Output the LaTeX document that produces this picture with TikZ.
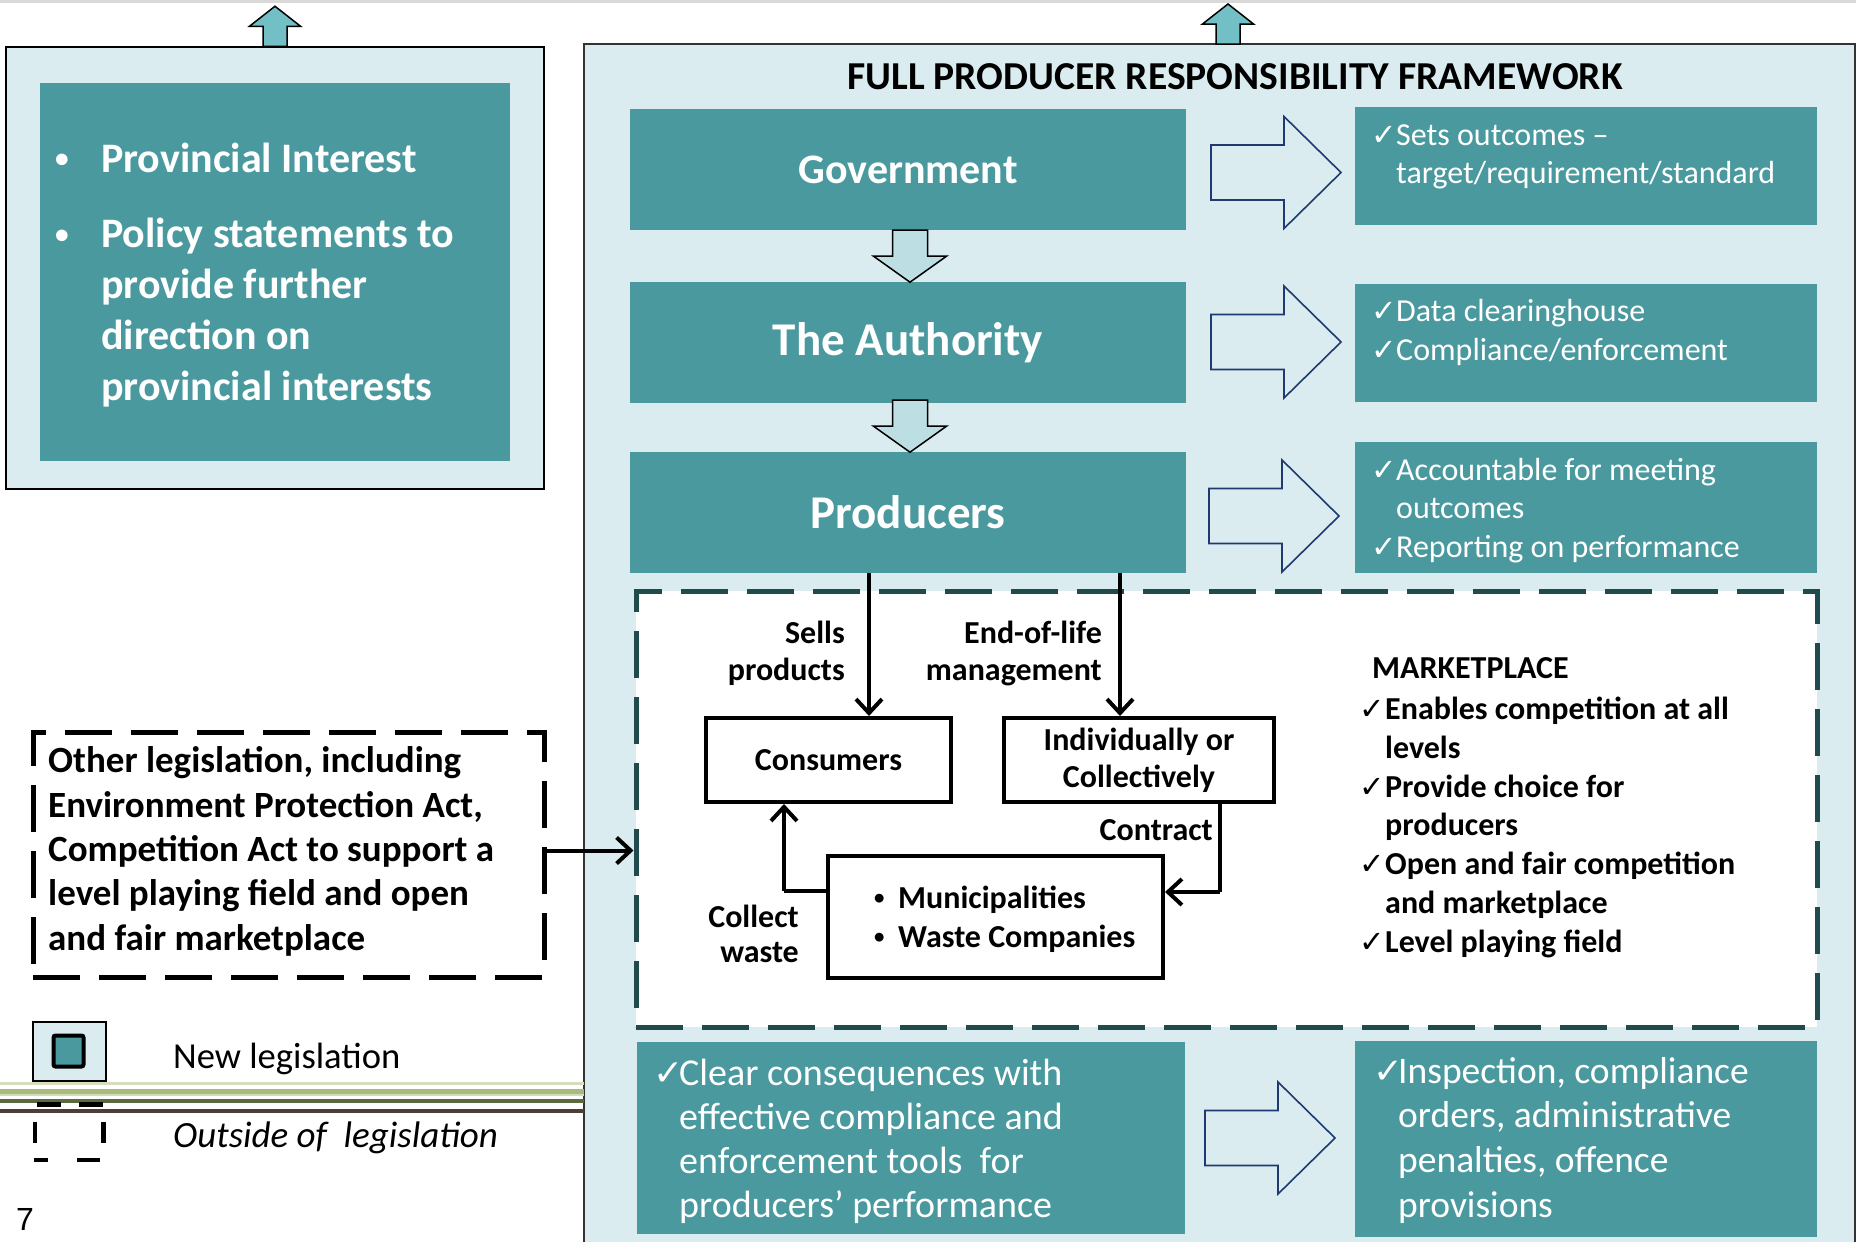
\documentclass[tikz,border=0pt]{standalone}
\usepackage{fontspec}
\usepackage{graphicx}
\setmainfont{Carlito}
\newfontfamily\symfont{DejaVu Sans}
\newfontfamily\arialfont{Liberation Sans}
\usetikzlibrary{arrows.meta,calc}
\definecolor{teal1}{HTML}{4A999F}
\definecolor{bgc}{HTML}{DAECEF}
\definecolor{uparr}{HTML}{72BFC5}
\definecolor{dnarr}{HTML}{BDDFE3}
\definecolor{dteal}{HTML}{1F4B4D}
\definecolor{navy}{HTML}{1F3A70}
\definecolor{stA}{HTML}{D6DFBC}
\definecolor{stB}{HTML}{A9BB7E}
\definecolor{stC}{HTML}{D3DDB5}
\definecolor{stD}{HTML}{5A6A3C}
\definecolor{stE}{HTML}{4B3F37}
\newcommand\chk{{\symfont\scalebox{0.95}{✓}}}
\newcommand\smbul[1]{\raisebox{#1}{\scalebox{0.65}{•}}}
\tikzset{
  tealbox/.style={fill=teal1, draw=none, text=white, inner sep=0pt},
  lightbox/.style={fill=bgc, draw=black, line width=1.5pt, inner sep=0pt},
  wbox/.style={fill=white, draw=black, line width=4pt, inner sep=0pt, font=\bfseries\fontsize{32}{37}\selectfont, align=center},
  dashbox/.style={draw=black, line width=5pt, dash pattern=on 47pt off 19pt, inner sep=0pt},
  txt/.style={inner sep=0pt, anchor=base west, align=left},
  blk/.style={line width=4pt, -{Straight Barb[length=14pt,width=26pt]}},
  harrow/.pic={\draw[navy, line width=1.6pt, fill=bgc] (0,-27.5) -- (73,-27.5) -- (73,-56) -- (130,0) -- (73,56) -- (73,27.5) -- (0,27.5) -- cycle;},
  darrow/.pic={\draw[black, line width=1.5pt, fill=dnarr] (-17.5,0) -- (17.5,0) -- (17.5,26) -- (36.5,26) -- (0,52) -- (-36.5,26) -- (-17.5,26) -- cycle;},
  uarrow/.pic={\draw[black, line width=1.5pt, fill=uparr] (-12,0) -- (-12,-20) -- (-25.5,-20) -- (0,-40) -- (25.5,-20) -- (12,-20) -- (12,0) -- cycle;}
}
\begin{document}
\begin{tikzpicture}[x=1pt,y=-1pt]
\useasboundingbox (0,0) rectangle (1856,1242);
\fill[white] (0,0) rectangle (1856,1242);
% top grey rule
\fill[black!15] (0,0) rectangle (1856,3);

% ---------- left panel ----------
\node[lightbox, minimum width=538pt, minimum height=442pt] (lbox) at (275,268) {};
\node[tealbox, minimum width=470pt, minimum height=378pt] (lteal) at (275,272) {};
\pic at (lbox.north) {uarrow};
\node[txt, text=white, font=\bfseries\fontsize{42}{50.7}\selectfont] (pi1) at (55,172) {\makebox[46pt][l]{\smbul{4.8pt}}Provincial Interest};
\node[txt, text=white, font=\bfseries\fontsize{42}{50.7}\selectfont] (pi2) at (55,400) {\makebox[46pt][l]{\smbul{4.8pt}}Policy statements to\\\hspace*{46pt}provide further\\\hspace*{46pt}direction on\\\hspace*{46pt}provincial interests};

% ---------- right framework panel ----------
\node[fill=bgc, draw=black!80, line width=2pt, minimum width=1271pt, minimum height=1230pt, inner sep=0pt] (rbox) at (1219.5,659) {};
\pic at (1228,44) {uarrow};
\node[inner sep=0pt, anchor=base, font=\bfseries\fontsize{39.6}{39.6}\selectfont] (title) at (1235,89) {FULL PRODUCER RESPONSIBILITY FRAMEWORK};

\node[tealbox, minimum width=556pt, minimum height=121pt, font=\bfseries\fontsize{42}{42}\selectfont] (gov) at (908,169.5) {Government};
\node[tealbox, minimum width=556pt, minimum height=121pt, font=\bfseries\fontsize{47}{47}\selectfont] (auth) at (908,342.5) {The Authority};
\node[tealbox, minimum width=556pt, minimum height=121pt, font=\bfseries\fontsize{47}{47}\selectfont] (prod) at (908,512.5) {Producers};
\pic at ([xshift=2pt]gov.south) {darrow};
\pic at ([xshift=2pt, yshift=3pt]auth.south) {darrow};

\node[tealbox, minimum width=462pt, minimum height=118pt] (r1) at (1586,166) {};
\node[tealbox, minimum width=462pt, minimum height=118pt] (r2) at (1586,343) {};
\node[tealbox, minimum width=462pt, minimum height=131pt] (r3) at (1586,507.5) {};
\pic at (1211,172.5) {harrow};
\pic at (1211,342) {harrow};
\pic at (1209,516) {harrow};

\node[txt, text=white, font=\fontsize{32}{38}\selectfont] (t1) at (1371,183) {\makebox[25pt][l]{\chk}Sets outcomes –\\\hspace*{25pt}target/requirement/standard};
\node[txt, text=white, font=\fontsize{32}{39}\selectfont] (t2) at (1371,360) {\makebox[25pt][l]{\chk}Data clearinghouse\\\makebox[25pt][l]{\chk}Compliance/enforcement};
\node[txt, text=white, font=\fontsize{32}{38.5}\selectfont] (t3) at (1371,557) {\makebox[25pt][l]{\chk}Accountable for meeting\\\hspace*{25pt}outcomes\\\makebox[25pt][l]{\chk}Reporting on performance};

% marketplace dashed area
\node[fill=white, draw=dteal, line width=5pt, dash pattern=on 47pt off 19pt, minimum width=1181pt, minimum height=436pt, inner sep=0pt] (mkt) at (1226.5,809) {};

\node[wbox, minimum width=245pt, minimum height=84pt] (cons) at (828.5,760) {Consumers};
\node[wbox, minimum width=270pt, minimum height=84pt] (indiv) at (1139,760) {Individually or\\Collectively};
\node[wbox, minimum width=335pt, minimum height=122pt] (muni) at (995.5,917) {};
\node[txt, font=\bfseries\fontsize{32}{39}\selectfont] (munit) at (874,947) {\makebox[24pt][l]{\smbul{3.7pt}}Municipalities\\\makebox[24pt][l]{\smbul{3.7pt}}Waste Companies};

\node[inner sep=0pt, anchor=base east, align=right, font=\bfseries\fontsize{32}{37}\selectfont] (sells) at (845,680) {Sells\\products};
\node[inner sep=0pt, anchor=base east, align=right, font=\bfseries\fontsize{32}{37}\selectfont] (eol) at (1102,680) {End-of-life\\management};
\node[inner sep=0pt, anchor=base east, font=\bfseries\fontsize{32}{37}\selectfont] (contr) at (1213,840) {Contract};
\node[inner sep=0pt, anchor=base east, align=right, font=\bfseries\fontsize{32}{35}\selectfont] (coll) at (799,962) {Collect\\waste};

\coordinate (a1) at ([xshift=40.5pt]cons.north);
\coordinate (a2) at ([xshift=-19pt]indiv.north);
\draw[blk] (a1 |- prod.south) -- (a1);
\draw[blk] (a2 |- prod.south) -- (a2);
\coordinate (c1) at ([yshift=26pt]muni.west);
\coordinate (c2) at ([xshift=-44.5pt]cons.south);
\draw[line width=4pt] (c1) -- (c1 -| c2);
\draw[blk] (c1 -| c2) -- (c2);
\coordinate (k1) at ([xshift=81pt]indiv.south);
\coordinate (k2) at ([yshift=25pt]muni.east);
\draw[line width=4pt] (k1) -- (k1 |- k2);
\draw[blk] (k1 |- k2) -- (k2);

\node[txt, font=\bfseries\fontsize{32}{38.7}\selectfont] (mkh) at (1372,678) {MARKETPLACE};
\node[txt, font=\bfseries\fontsize{32}{38.7}\selectfont] (mkl) at (1359,952) {\makebox[26pt][l]{\chk}Enables competition at all\\\hspace*{26pt}levels\\\makebox[26pt][l]{\chk}Provide choice for\\\hspace*{26pt}producers\\\makebox[26pt][l]{\chk}Open and fair competition\\\hspace*{26pt}and marketplace\\\makebox[26pt][l]{\chk}Level playing field};

% bottom row
\node[tealbox, minimum width=548pt, minimum height=192pt] (b1) at (911,1138) {};
\node[tealbox, minimum width=462pt, minimum height=196pt] (b2) at (1586,1139) {};
\pic at (1205,1138) {harrow};
\node[txt, text=white, font=\fontsize{38}{44}\selectfont] (t4) at (653,1217) {\makebox[26pt][l]{\chk}Clear consequences with\\\hspace*{26pt}effective compliance and\\\hspace*{26pt}enforcement tools~ for\\\hspace*{26pt}producers’ performance};
\node[txt, text=white, font=\fontsize{37.5}{44.6}\selectfont] (t5) at (1373,1217) {\makebox[25pt][l]{\chk}Inspection, compliance\\\hspace*{25pt}orders, administrative\\\hspace*{25pt}penalties, offence\\\hspace*{25pt}provisions};

% ---------- other legislation ----------
\node[dashbox, minimum width=511pt, minimum height=245pt] (olbox) at (288.5,854.5) {};
\node[txt, font=\bfseries\fontsize{37}{44.3}\selectfont] (ol) at (48,950) {Other legislation, including\\Environment Protection Act,\\Competition Act to support a\\level playing field and open\\and fair marketplace};
\draw[blk] ([yshift=4pt]olbox.east) -- ([yshift=4pt]olbox.east -| mkt.west);

% ---------- legend ----------
\node[lightbox, minimum width=73pt, minimum height=59pt] (lg1) at (69.5,1051.5) {};
\node[fill=teal1, draw=black, line width=4pt, rounded corners=2pt, minimum width=30pt, minimum height=31pt, inner sep=0pt] (lg1i) at (68.5,1051) {};
\node[txt, font=\fontsize{36.6}{36.6}\selectfont] (nl) at (173,1068) {New legislation};
% decorative stripes
\fill[stA] (0,1081.5) rectangle (584,1085);
\fill[stB] (0,1089) rectangle (584,1094);
\fill[stC] (0,1094) rectangle (584,1096);
\fill[stD] (0,1099) rectangle (584,1103);
\fill[stE] (0,1109) rectangle (584,1113);
% dashed legend square
\draw[line width=4.5pt] (37,1104.5) -- (61,1104.5) (79,1104.5) -- (103,1104.5);
\draw[line width=4.5pt] (35,1122) -- (35,1143) (103.5,1122) -- (103.5,1143);
\draw[line width=4.5pt] (34,1160) -- (48,1160) (77,1160) -- (100,1160);
\node[txt, font=\itshape\fontsize{37}{37}\selectfont] (ool) at (173,1147) {Outside of~ legislation};
\node[txt, font=\arialfont\fontsize{32}{32}\selectfont] (pg) at (16,1230) {7};
\end{tikzpicture}
\end{document}
